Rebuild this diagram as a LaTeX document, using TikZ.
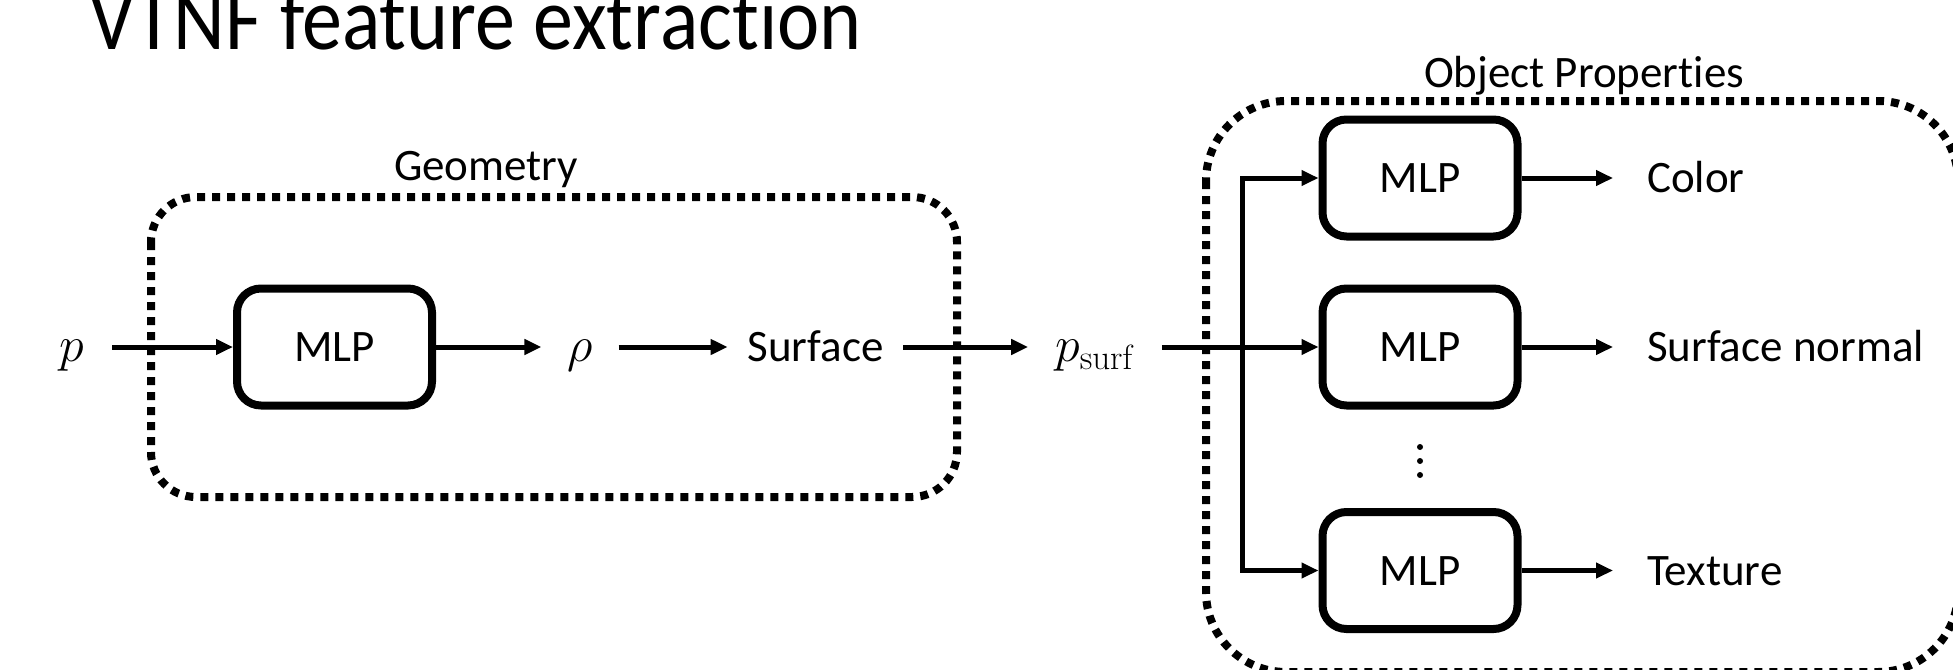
\documentclass[tikz,border=0pt]{standalone}
\usepackage{fix-cm}
\usepackage[no-math]{fontspec}
\setmainfont{Carlito}[Ligatures={NoCommon}]
\usetikzlibrary{arrows.meta}
\begin{document}
\begin{tikzpicture}[x=1pt,y=-1pt,
  lbl/.style={font=\fontsize{45}{54}\selectfont, inner ysep=0pt, outer sep=0pt, text height=29pt, text depth=0pt},
  hdr/.style={font=\fontsize{45}{54}\selectfont, inner sep=0pt},
  mlp/.style={lbl, draw, line width=8pt, rounded corners=24pt, minimum width=195pt, minimum height=117pt, inner sep=0pt, outer sep=4pt},
  tip/.tip={Triangle[length=17pt,width=15pt]},
  conn/.style={line width=5pt, -tip},
  dotbox/.style={draw, line width=8pt, dash pattern=on 8pt off 7pt, rounded corners=#1},
]
\useasboundingbox (0,0) rectangle (1953,669);
\clip (0,0) rectangle (1953,669);

% title
\node[anchor=base west, inner sep=0pt, font=\fontsize{80}{96}\selectfont] (title) at (89,50) {\scalebox{1}[1.12]{VTNF feature extraction}};

% geometry group
\draw[dotbox=45pt] (151,197) rectangle (957,497);
\node[hdr] (geo) at (486,170) {Geometry};

\node[lbl, inner xsep=28pt, font=\fontsize{50}{60}\selectfont] (p) at (72,347) {$p$};
\node[mlp] (m1) at (334.5,347) {MLP};
\node[lbl, inner xsep=26pt, font=\fontsize{50}{60}\selectfont] (rho) at (580,347) {$\rho$};
\node[lbl, inner xsep=20pt] (surf) at (815.5,347) {Surface};
\node[lbl, inner xsep=27pt, font=\fontsize{50}{60}\selectfont] (ps) at (1095,347) {$p_{\mathrm{surf}}$};

\draw[conn] (p.east) -- (m1.west);
\draw[conn] (m1.east) -- (rho.west);
\draw[conn] (rho.east) -- (surf.west);
\draw[conn] (surf.east) -- (ps.west);

% object properties group
\draw[dotbox=80pt] (1206,101) rectangle (1958,672);
\node[hdr] (obj) at (1584,76) {Object Properties};

\node[mlp] (m2) at (1420,178) {MLP};
\node[mlp] (m3) at (1420,347) {MLP};
\node[mlp] (m4) at (1420,570.5) {MLP};

\coordinate (j) at (1242,347);
\draw[conn] (ps.east) -- (m3.west);
\draw[line width=5pt, tip-tip] (m2.west) -- (m2.west -| j) -- (m4.west -| j) -- (m4.west);

\node[lbl, anchor=west, inner xsep=34pt] (c1) at (1613,178) {Color};
\node[lbl, anchor=west, inner xsep=34pt] (c2) at (1613,347) {Surface normal};
\node[lbl, anchor=west, inner xsep=34pt] (c3) at (1613,570.5) {Texture};
\draw[conn] (m2.east) -- (c1.west);
\draw[conn] (m3.east) -- (c2.west);
\draw[conn] (m4.east) -- (c3.west);

\foreach \yy in {447,461,475} \fill (1420,\yy) circle (3pt);
\end{tikzpicture}
\end{document}
